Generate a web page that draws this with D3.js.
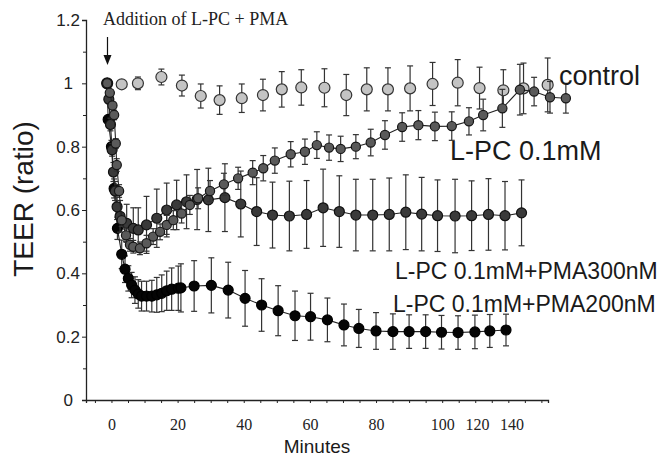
<!DOCTYPE html>
<html>
<head>
<meta charset="utf-8">
<script src="https://cdn.jsdelivr.net/npm/d3@7"></script>
<style>
  body { margin: 0; background: #fff; }
  svg { display: block; }
  .sans { font-family: "Liberation Sans", Arial, Helvetica, sans-serif; }
  .serif { font-family: "Liberation Serif", "Times New Roman", serif; }
</style>
</head>
<body>
<svg id="chart" width="664" height="456"></svg>
<script>
// control
const controlT = [-1.3, 3.1, 8, 15.1, 21.3, 27, 32.7, 39.4, 45.8, 51.5, 57.4, 64.4, 71, 77.2, 83.6, 90.3, 97.1, 104.7, 111.3, 118.5, 124.6, 131.9];
const controlV = [1.0, 0.997, 1.0, 1.02, 0.993, 0.96, 0.947, 0.953, 0.963, 0.981, 0.987, 0.986, 0.963, 0.981, 0.981, 0.984, 0.998, 1.002, 0.985, 0.978, 0.984, 0.995];
const controlE = [0, 0.01, 0.02, 0.025, 0.033, 0.038, 0.045, 0.045, 0.05, 0.056, 0.056, 0.06, 0.065, 0.068, 0.068, 0.071, 0.068, 0.073, 0.066, 0.065, 0.08, 0.085];

// L-PC 0.1mM
const lpcT = [-1.3, -0.5, 0.3, 0.8, 1.3, 1.6, 2.3, 3.1, 4.4, 5.6, 6.6, 8.6, 10.6, 12.6, 14.7, 16.7, 18.7, 21.2, 23.7, 26.2, 29.8, 34, 38.3, 42.7, 45.9, 49.4, 54.2, 58.5, 62.1, 65.8, 69.3, 73.9, 78.4, 82.7, 87.9, 92.8, 97.8, 102.9, 108.1, 112.4, 118.2, 123.5, 127.8, 132.6, 137.4];
const lpcV = [1.0, 0.97, 0.93, 0.9, 0.81, 0.742, 0.66, 0.568, 0.52, 0.49, 0.484, 0.479, 0.495, 0.516, 0.531, 0.553, 0.568, 0.589, 0.616, 0.637, 0.66, 0.681, 0.7, 0.718, 0.732, 0.756, 0.776, 0.784, 0.805, 0.797, 0.793, 0.8, 0.813, 0.837, 0.862, 0.868, 0.864, 0.865, 0.88, 0.9, 0.921, 0.98, 0.974, 0.956, 0.953];
const lpcE = [0, 0.01, 0.01, 0.015, 0.015, 0.02, 0.02, 0.02, 0.02, 0.02, 0.02, 0.02, 0.025, 0.025, 0.025, 0.03, 0.03, 0.03, 0.03, 0.033, 0.033, 0.035, 0.035, 0.038, 0.04, 0.04, 0.04, 0.04, 0.042, 0.04, 0.04, 0.038, 0.042, 0.045, 0.045, 0.046, 0.045, 0.045, 0.043, 0.05, 0.06, 0.08, 0.045, 0.05, 0.047];

// L-PC 0.1mM + PMA300nM
const pma300T = [-1.3, -0.8, -0.3, 0.2, 0.6, 1.1, 1.7, 2.6, 4.6, 6.6, 8.1, 10.6, 13.7, 16.7, 19.7, 22.7, 25.9, 29.3, 34.3, 39.1, 43.9, 48.7, 53.8, 59, 64, 68.9, 73.9, 79, 84, 89, 93.8, 98.6, 103.9, 108.9, 114, 119, 124];
const pma300V = [1.0, 0.95, 0.87, 0.79, 0.72, 0.66, 0.61, 0.58, 0.558, 0.542, 0.537, 0.553, 0.574, 0.6, 0.616, 0.626, 0.633, 0.632, 0.639, 0.619, 0.595, 0.584, 0.581, 0.586, 0.607, 0.595, 0.584, 0.584, 0.586, 0.593, 0.587, 0.582, 0.581, 0.582, 0.586, 0.582, 0.591];
const pma300E = [0, 0.01, 0.02, 0.02, 0.03, 0.03, 0.04, 0.05, 0.06, 0.065, 0.07, 0.09, 0.092, 0.085, 0.078, 0.085, 0.095, 0.1, 0.107, 0.104, 0.107, 0.104, 0.11, 0.107, 0.122, 0.113, 0.113, 0.113, 0.115, 0.118, 0.116, 0.113, 0.116, 0.11, 0.113, 0.108, 0.104];

// L-PC 0.1mM + PMA200nM
const pma200T = [-1.3, -1, 0, 0.8, 1.8, 3.1, 4.1, 5.1, 6.1, 7.1, 8.1, 9.1, 10.6, 12.2, 13.7, 15.2, 16.7, 18.2, 20.2, 21, 25, 30.2, 35.3, 40.4, 45.4, 50.4, 55.5, 60.2, 65.3, 70.3, 74.8, 80, 85.1, 90, 95, 99.8, 104.8, 109.9, 114.4, 119.3];
const pma200V = [1.0, 0.886, 0.8, 0.668, 0.542, 0.46, 0.413, 0.384, 0.363, 0.347, 0.335, 0.328, 0.328, 0.328, 0.332, 0.337, 0.345, 0.35, 0.353, 0.354, 0.36, 0.362, 0.347, 0.321, 0.3, 0.282, 0.266, 0.263, 0.253, 0.237, 0.226, 0.218, 0.216, 0.216, 0.216, 0.214, 0.213, 0.215, 0.218, 0.221];
const pma200E = [0, 0.01, 0.02, 0.03, 0.035, 0.045, 0.042, 0.04, 0.04, 0.042, 0.045, 0.047, 0.047, 0.05, 0.055, 0.058, 0.062, 0.067, 0.07, 0.076, 0.08, 0.087, 0.088, 0.088, 0.083, 0.079, 0.078, 0.074, 0.069, 0.066, 0.06, 0.058, 0.056, 0.053, 0.053, 0.053, 0.053, 0.053, 0.052, 0.05];

// axis ticks / labels
const yMajor = [0, 0.2, 0.4, 0.6, 0.8, 1, 1.2];
const yMinor = [0.1, 0.3, 0.5, 0.7, 0.9, 1.1];
const xMinor = d3.range(-5, 131, 5);
const xLabelAt = [0, 20, 40, 60, 80, 100, 110.5, 121];
const xLabels = ["0", "20", "40", "60", "80", "100", "120", "140"];

const svg = d3.select("#chart");

const x = d3.scaleLinear().domain([-7.7, 132]).range([86, 548]);
const y = d3.scaleLinear().domain([0, 1.2]).range([400, 20]);

function pack(ts, vs, es) {
  return ts.map((t, i) => ({ t: t, v: vs[i], e: es[i] }));
}

const series = [
  { name: "control", data: pack(controlT, controlV, controlE), fill: "#c4c4c4", stroke: "#333", r: 5.5, line: false },
  { name: "pma200", data: pack(pma200T, pma200V, pma200E), fill: "#050505", stroke: "#000", r: 5, line: true },
  { name: "pma300", data: pack(pma300T, pma300V, pma300E), fill: "#3a3a3a", stroke: "#111", r: 5, line: true },
  { name: "lpc", data: pack(lpcT, lpcV, lpcE), fill: "#5a5a5a", stroke: "#161616", r: 4.6, line: true }
];

// axes
const axisColor = "#222";

const yAxis = svg.append("g")
    .attr("transform", "translate(86,0)")
    .call(d3.axisLeft(y).tickValues(yMajor).tickSize(4).tickPadding(2)
      .tickFormat(d => d3.format("")(+d.toFixed(1))));
yAxis.selectAll("text")
    .attr("class", "sans")
    .attr("font-size", 17)
    .attr("fill", "#222")
    .attr("dx", d => (d === 0 || d === 1) ? -7 : 0);

svg.append("g")
    .attr("transform", "translate(86,0)")
    .call(d3.axisLeft(y).tickValues(yMinor).tickSize(3).tickFormat(""))
    .select(".domain").remove();

svg.append("g")
    .attr("transform", "translate(0,400)")
    .call(d3.axisBottom(x).tickValues(xMinor).tickSize(3).tickFormat(""));

svg.append("g")
    .attr("transform", "translate(0,400)")
    .call(d3.axisBottom(x).tickValues(xLabelAt).tickSize(0).tickPadding(19)
      .tickFormat((d, i) => xLabels[i]))
    .call(g => g.select(".domain").remove())
    .selectAll("text")
    .attr("class", "serif")
    .attr("font-size", 16)
    .attr("fill", "#222");

svg.selectAll(".domain").attr("stroke", axisColor).attr("stroke-width", 1.3);
svg.selectAll(".tick line").attr("stroke", axisColor).attr("stroke-width", 1);

// series
series.forEach(s => {
  const g = svg.append("g").attr("class", "series-" + s.name);
  const withErr = s.data.filter(d => d.e > 0);

  g.selectAll("line.err")
    .data(withErr)
    .enter().append("line")
    .attr("class", "err")
    .attr("x1", d => x(d.t)).attr("x2", d => x(d.t))
    .attr("y1", d => y(d.v + d.e)).attr("y2", d => y(d.v - d.e))
    .attr("stroke", "#333").attr("stroke-width", 1.2);

  // caps, top and bottom
  [1, -1].forEach(sign => {
    g.selectAll("line.cap" + sign)
      .data(withErr)
      .enter().append("line")
      .attr("class", "cap" + sign)
      .attr("x1", d => x(d.t) - 3).attr("x2", d => x(d.t) + 3)
      .attr("y1", d => y(d.v + sign * d.e)).attr("y2", d => y(d.v + sign * d.e))
      .attr("stroke", "#333").attr("stroke-width", 1.2);
  });

  if (s.line) {
    g.append("path")
      .datum(s.data)
      .attr("fill", "none")
      .attr("stroke", "#222")
      .attr("stroke-width", 1.1)
      .attr("d", d3.line().x(d => x(d.t)).y(d => y(d.v)));
  }

  g.selectAll("circle")
    .data(s.data)
    .enter().append("circle")
    .attr("cx", d => x(d.t))
    .attr("cy", d => y(d.v))
    .attr("r", s.r)
    .attr("fill", s.fill)
    .attr("stroke", s.stroke)
    .attr("stroke-width", 1.2);
});

// annotation arrow
const ax = x(-1.2);
svg.append("line")
    .attr("x1", ax).attr("x2", ax)
    .attr("y1", 37).attr("y2", 57)
    .attr("stroke", "#111").attr("stroke-width", 1.2);
svg.append("path")
    .attr("d", `M${ax - 4},55 L${ax + 4},55 L${ax},65 Z`)
    .attr("fill", "#111");

svg.append("text")
    .attr("class", "serif")
    .attr("x", 103).attr("y", 25)
    .attr("font-size", 18)
    .attr("fill", "#222")
    .text("Addition of L-PC + PMA");

// series labels
const labels = [
  { text: "control", x: 559, y: 85, size: 27 },
  { text: "L-PC 0.1mM", x: 450, y: 160, size: 27 },
  { text: "L-PC 0.1mM+PMA300nM", x: 395, y: 279, size: 23 },
  { text: "L-PC 0.1mM+PMA200nM", x: 393, y: 312, size: 23 }
];
svg.selectAll("text.lbl")
    .data(labels)
    .enter().append("text")
    .attr("class", "lbl sans")
    .attr("x", d => d.x).attr("y", d => d.y)
    .attr("font-size", d => d.size)
    .attr("fill", "#1a1a1a")
    .text(d => d.text);

// axis titles
svg.append("text")
    .attr("class", "sans")
    .attr("transform", "translate(33,199) rotate(-90)")
    .attr("text-anchor", "middle")
    .attr("font-size", 28)
    .attr("fill", "#1a1a1a")
    .text("TEER (ratio)");

svg.append("text")
    .attr("class", "sans")
    .attr("x", 317).attr("y", 453)
    .attr("text-anchor", "middle")
    .attr("font-size", 19)
    .attr("fill", "#1a1a1a")
    .text("Minutes");
</script>
</body>
</html>
